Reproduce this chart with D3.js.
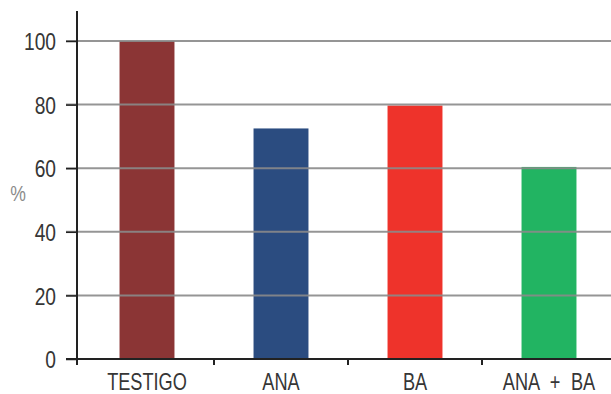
<!DOCTYPE html>
<html>
<head>
<meta charset="utf-8">
<script src="https://cdn.jsdelivr.net/npm/d3@7/dist/d3.min.js"></script>
<style>
  html, body { margin: 0; padding: 0; background: #fff; }
  svg { display: block; }
  text { font-family: "Liberation Sans", Arial, sans-serif; }
</style>
</head>
<body>
<svg id="chart" width="611" height="394"></svg>
<script>
// Treatments and their response (%)
const categories = ["TESTIGO", "ANA", "BA", "ANA + BA"];
const values = [100, 72.5, 79.7, 60.4];
const colors = ["#8b3535", "#2b4c80", "#ee332b", "#22b462"];
const yTicks = [0, 20, 40, 60, 80, 100];
const yLabel = "%";

const svg = d3.select("#chart");

const x = d3.scaleBand()
  .domain(categories)
  .range([80, 616])
  .paddingInner(0.59)
  .paddingOuter(0.295);

const y = d3.scaleLinear()
  .domain([0, 100])
  .range([359, 41]);

// condensed look: squeeze glyphs horizontally around the anchor point
function condense(sel, s, offsetX) {
  sel.attr("x", offsetX / s).attr("transform", `scale(${s},1)`);
}

// bars
svg.append("g")
  .selectAll("rect")
  .data(categories)
  .join("rect")
  .attr("x", d => x(d))
  .attr("width", x.bandwidth())
  .attr("y", (d, i) => y(values[i]))
  .attr("height", (d, i) => y(0) - y(values[i]))
  .attr("fill", (d, i) => colors[i]);

// horizontal grid lines, drawn over the bars
svg.append("g")
  .selectAll("line")
  .data(yTicks.filter(t => t > 0))
  .join("line")
  .attr("x1", 66)
  .attr("x2", 611)
  .attr("y1", d => y(d))
  .attr("y2", d => y(d))
  .attr("stroke", "#8a8a8a")
  .attr("stroke-opacity", 0.9)
  .attr("stroke-width", 2);

// y axis
const yAxis = svg.append("g")
  .attr("transform", "translate(77,0)")
  .call(d3.axisLeft(y).tickValues(yTicks).tickSize(11).tickPadding(10).tickSizeOuter(0));
yAxis.select(".domain").remove();
yAxis.selectAll(".tick line").attr("stroke", "#222").attr("stroke-width", 1.5);
yAxis.selectAll(".tick text")
  .attr("fill", "#363636")
  .attr("font-size", 24)
  .attr("dy", "0.36em")
  .call(condense, 0.8, -21);
yAxis.append("line")
  .attr("x1", 0).attr("x2", 0)
  .attr("y1", 11).attr("y2", 365)
  .attr("stroke", "#222").attr("stroke-width", 2);

// x axis
const xAxis = svg.append("g")
  .attr("transform", `translate(0,${y(0)})`)
  .call(d3.axisBottom(x).tickSize(0).tickPadding(0));
xAxis.select(".domain").remove();
xAxis.selectAll(".tick text")
  .attr("fill", "#363636")
  .attr("font-size", 23)
  .attr("y", 31)
  .attr("dy", 0)
  .attr("word-spacing", 7)
  .call(condense, 0.79, 0);
xAxis.append("line")
  .attr("x1", 66).attr("x2", 611)
  .attr("y1", 0).attr("y2", 0)
  .attr("stroke", "#222").attr("stroke-width", 2);
// separators between categories
xAxis.selectAll(".sep")
  .data(categories.slice(1))
  .join("line")
  .attr("class", "sep")
  .attr("x1", d => x(d) - x.step() * x.paddingInner() / 2)
  .attr("x2", d => x(d) - x.step() * x.paddingInner() / 2)
  .attr("y1", 0).attr("y2", 6)
  .attr("stroke", "#222").attr("stroke-width", 2);

// axis title
svg.append("text")
  .attr("transform", "translate(18,201) scale(0.8,1)")
  .attr("text-anchor", "middle")
  .attr("fill", "#8a8a8a")
  .attr("font-size", 22)
  .text(yLabel);
</script>
</body>
</html>
